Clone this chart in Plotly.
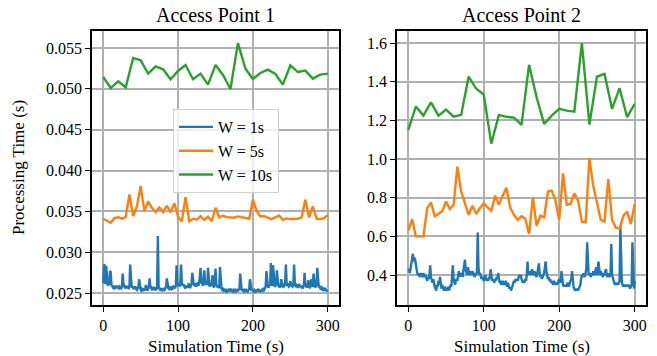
import plotly.graph_objects as go

# ---------------- data ----------------
t_1s = list(range(0, 301, 1))
t_5s = list(range(0, 301, 5))
t_10s = list(range(0, 301, 10))

ap1_w1 = [
    0.0262, 0.0285, 0.0284, 0.0261, 0.0283, 0.0262, 0.0259, 0.0264, 0.0260, 0.0277,
    0.0276, 0.0260, 0.0259, 0.0257, 0.0258, 0.0256, 0.0257, 0.0258, 0.0256, 0.0259,
    0.0257, 0.0256, 0.0258, 0.0257, 0.0256, 0.0258, 0.0274, 0.0262, 0.0258, 0.0256,
    0.0257, 0.0259, 0.0256, 0.0257, 0.0255, 0.0258, 0.0285, 0.0262, 0.0257, 0.0258,
    0.0256, 0.0255, 0.0257, 0.0258, 0.0255, 0.0254, 0.0256, 0.0258, 0.0267, 0.0256,
    0.0254, 0.0253, 0.0255, 0.0254, 0.0256, 0.0253, 0.0255, 0.0260, 0.0254, 0.0253,
    0.0255, 0.0258, 0.0268, 0.0256, 0.0257, 0.0255, 0.0256, 0.0254, 0.0256, 0.0255,
    0.0257, 0.0255, 0.0256, 0.0320, 0.0257, 0.0255, 0.0254, 0.0255, 0.0254, 0.0256,
    0.0254, 0.0255, 0.0254, 0.0256, 0.0259, 0.0268, 0.0258, 0.0256, 0.0255, 0.0257,
    0.0256, 0.0255, 0.0257, 0.0256, 0.0258, 0.0257, 0.0256, 0.0259, 0.0284, 0.0263,
    0.0259, 0.0260, 0.0258, 0.0262, 0.0285, 0.0263, 0.0259, 0.0261, 0.0258, 0.0257,
    0.0258, 0.0256, 0.0259, 0.0257, 0.0262, 0.0258, 0.0256, 0.0259, 0.0262, 0.0275,
    0.0263, 0.0260, 0.0259, 0.0262, 0.0258, 0.0260, 0.0263, 0.0259, 0.0262, 0.0270,
    0.0281, 0.0262, 0.0264, 0.0259, 0.0266, 0.0278, 0.0262, 0.0260, 0.0265, 0.0260,
    0.0281, 0.0263, 0.0258, 0.0261, 0.0259, 0.0263, 0.0272, 0.0259, 0.0257, 0.0260,
    0.0280, 0.0261, 0.0258, 0.0257, 0.0259, 0.0256, 0.0282, 0.0260, 0.0256, 0.0254,
    0.0255, 0.0253, 0.0254, 0.0253, 0.0254, 0.0252, 0.0253, 0.0254, 0.0253, 0.0254,
    0.0252, 0.0254, 0.0253, 0.0252, 0.0254, 0.0253, 0.0254, 0.0252, 0.0253, 0.0254,
    0.0253, 0.0254, 0.0255, 0.0274, 0.0255, 0.0253, 0.0254, 0.0253, 0.0254, 0.0252,
    0.0253, 0.0254, 0.0253, 0.0252, 0.0254, 0.0255, 0.0267, 0.0255, 0.0253, 0.0254,
    0.0253, 0.0252, 0.0254, 0.0253, 0.0252, 0.0253, 0.0254, 0.0253, 0.0254, 0.0253,
    0.0252, 0.0253, 0.0254, 0.0253, 0.0255, 0.0254, 0.0256, 0.0258, 0.0277, 0.0259,
    0.0258, 0.0257, 0.0260, 0.0259, 0.0287, 0.0261, 0.0259, 0.0284, 0.0260, 0.0258,
    0.0259, 0.0262, 0.0278, 0.0260, 0.0258, 0.0259, 0.0257, 0.0259, 0.0267, 0.0259,
    0.0258, 0.0260, 0.0259, 0.0261, 0.0285, 0.0262, 0.0259, 0.0260, 0.0258, 0.0259,
    0.0265, 0.0260, 0.0259, 0.0258, 0.0260, 0.0285, 0.0261, 0.0259, 0.0260, 0.0258,
    0.0259, 0.0258, 0.0260, 0.0259, 0.0258, 0.0257, 0.0258, 0.0257, 0.0259, 0.0275,
    0.0260, 0.0258, 0.0257, 0.0259, 0.0266, 0.0258, 0.0257, 0.0259, 0.0267, 0.0259,
    0.0258, 0.0274, 0.0259, 0.0257, 0.0258, 0.0260, 0.0281, 0.0259, 0.0257, 0.0258,
    0.0256, 0.0257, 0.0255, 0.0256, 0.0254, 0.0255, 0.0253, 0.0255, 0.0254, 0.0253,
    0.0254,
]

ap1_w5 = [
    0.03411, 0.03390, 0.03362, 0.03418, 0.03430, 0.03411, 0.03430, 0.03708, 0.03443, 0.03565,
    0.03810, 0.03504, 0.03622, 0.03545, 0.03492, 0.03549, 0.03492, 0.03570, 0.03488, 0.03602,
    0.03435, 0.03378, 0.03675, 0.03378, 0.03411, 0.03398, 0.03443, 0.03398, 0.03435, 0.03382,
    0.03545, 0.03427, 0.03447, 0.03430, 0.03423, 0.03423, 0.03439, 0.03427, 0.03423, 0.03411,
    0.03643, 0.03504, 0.03439, 0.03443, 0.03423, 0.03406, 0.03427, 0.03451, 0.03398, 0.03414,
    0.03406, 0.03406, 0.03411, 0.03427, 0.03643, 0.03427, 0.03561, 0.03411, 0.03406, 0.03418,
    0.03455,
]

ap1_w10 = [
    0.05145, 0.05010, 0.05092, 0.05019, 0.05378, 0.05349, 0.05186, 0.05276, 0.05239, 0.05117,
    0.05219, 0.05292, 0.05117, 0.05186, 0.05052, 0.05292, 0.05170, 0.04998, 0.05560, 0.05248,
    0.05121, 0.05194, 0.05235, 0.05182, 0.05052, 0.05288, 0.05206, 0.05223, 0.05125, 0.05174,
    0.05186,
]

ap2_w1 = [
    0.42, 0.43, 0.41, 0.44, 0.46, 0.50, 0.51, 0.47, 0.49, 0.48,
    0.44, 0.43, 0.41, 0.40, 0.41, 0.39, 0.40, 0.41, 0.40, 0.39,
    0.41, 0.40, 0.39, 0.40, 0.38, 0.37, 0.39, 0.38, 0.40, 0.45,
    0.39, 0.37, 0.36, 0.38, 0.35, 0.34, 0.33, 0.32, 0.35, 0.34,
    0.37, 0.35, 0.39, 0.34, 0.33, 0.35, 0.33, 0.32, 0.33, 0.34,
    0.32, 0.33, 0.32, 0.34, 0.32, 0.33, 0.35, 0.34, 0.38, 0.45,
    0.38, 0.36, 0.35, 0.37, 0.38, 0.37, 0.39, 0.42, 0.39, 0.41,
    0.40, 0.41, 0.39, 0.42, 0.44, 0.48, 0.43, 0.41, 0.40, 0.44,
    0.41, 0.40, 0.42, 0.41, 0.40, 0.42, 0.41, 0.40, 0.39, 0.41,
    0.40, 0.42, 0.62, 0.44, 0.40, 0.41, 0.39, 0.38, 0.39, 0.38,
    0.37, 0.38, 0.40, 0.38, 0.37, 0.38, 0.37, 0.39, 0.38, 0.43,
    0.39, 0.37, 0.38, 0.37, 0.36, 0.38, 0.37, 0.39, 0.38, 0.41,
    0.38, 0.36, 0.37, 0.35, 0.36, 0.37, 0.35, 0.36, 0.35, 0.37,
    0.35, 0.34, 0.36, 0.34, 0.33, 0.34, 0.32, 0.33, 0.35, 0.36,
    0.37, 0.36, 0.38, 0.37, 0.38, 0.37, 0.39, 0.40, 0.39, 0.40,
    0.38, 0.37, 0.36, 0.37, 0.36, 0.38, 0.37, 0.40, 0.47, 0.40,
    0.41, 0.42, 0.40, 0.41, 0.43, 0.41, 0.40, 0.42, 0.41, 0.40,
    0.39, 0.41, 0.43, 0.46, 0.41, 0.39, 0.40, 0.38, 0.39, 0.40,
    0.41, 0.44, 0.47, 0.42, 0.39, 0.38, 0.39, 0.37, 0.38, 0.36,
    0.37, 0.36, 0.35, 0.37, 0.36, 0.35, 0.36, 0.35, 0.36, 0.37,
    0.38, 0.36, 0.37, 0.42, 0.36, 0.35, 0.34, 0.35, 0.34, 0.35,
    0.34, 0.36, 0.35, 0.34, 0.36, 0.37, 0.38, 0.42, 0.36, 0.34,
    0.33, 0.32, 0.33, 0.32, 0.33, 0.32, 0.33, 0.34, 0.35, 0.38,
    0.40, 0.39, 0.41, 0.40, 0.39, 0.41, 0.44, 0.57, 0.42, 0.40,
    0.41, 0.40, 0.39, 0.41, 0.40, 0.42, 0.40, 0.41, 0.43, 0.44,
    0.40, 0.42, 0.47, 0.41, 0.40, 0.42, 0.41, 0.40, 0.39, 0.41,
    0.40, 0.42, 0.43, 0.40, 0.39, 0.41, 0.40, 0.39, 0.41, 0.56,
    0.40, 0.38, 0.37, 0.36, 0.35, 0.36, 0.35, 0.36, 0.35, 0.36,
    0.37, 0.655, 0.40, 0.36, 0.35, 0.34, 0.35, 0.34, 0.35, 0.34,
    0.35, 0.34, 0.35, 0.34, 0.33, 0.34, 0.35, 0.57, 0.35, 0.33,
    0.37,
]

ap2_w5 = [
    0.63, 0.69, 0.60, 0.60, 0.60, 0.745, 0.776, 0.704, 0.719, 0.730,
    0.781, 0.742, 0.763, 0.961, 0.833, 0.776, 0.712, 0.759, 0.716, 0.747,
    0.771, 0.750, 0.733, 0.811, 0.764, 0.811, 0.851, 0.750, 0.711, 0.685,
    0.704, 0.693, 0.612, 0.802, 0.655, 0.707, 0.698, 0.832, 0.837, 0.785,
    0.685, 0.928, 0.764, 0.768, 0.823, 0.785, 0.676, 0.673, 1.004, 0.863,
    0.776, 0.686, 0.676, 0.897, 0.686, 0.645, 0.640, 0.707, 0.728, 0.664,
    0.768,
]

ap2_w10 = [
    1.151, 1.272, 1.225, 1.294, 1.225, 1.256, 1.220, 1.229, 1.427, 1.364,
    1.334, 1.080, 1.229, 1.219, 1.215, 1.177, 1.488, 1.320, 1.182, 1.225,
    1.260, 1.251, 1.246, 1.600, 1.179, 1.427, 1.441, 1.260, 1.367, 1.217,
    1.286,
]

series_names = ["W = 1s", "W = 5s", "W = 10s"]
colors = ["#1f77b4", "#ff7f0e", "#2ca02c"]
titles = ["Access Point 1", "Access Point 2"]
x_ticks = [0, 100, 200, 300]

# ---------------- figure ----------------
W, H = 657, 356
FONT = "Liberation Serif, Times New Roman, serif"

fig = go.Figure()

panels = [
    ("x", "y", [ap1_w1, ap1_w5, ap1_w10], True),
    ("x2", "y2", [ap2_w1, ap2_w5, ap2_w10], False),
]
xs = [t_1s, t_5s, t_10s]
for xa, ya, ys, show in panels:
    for i in range(3):
        fig.add_trace(go.Scatter(
            x=xs[i], y=ys[i], mode="lines", name=series_names[i],
            line=dict(color=colors[i], width=2.4),
            xaxis=xa, yaxis=ya, showlegend=show,
        ))

def px_x(p):
    return p / W

def px_y(p):
    return 1 - p / H

axis_common = dict(
    showgrid=True, gridcolor="#b0b0b0", gridwidth=1.6,
    showline=True, linecolor="black", linewidth=1.8, mirror=True,
    ticks="outside", ticklen=5, tickwidth=1.3, tickcolor="black",
    zeroline=False, tickfont=dict(family=FONT, size=16, color="black"),
)

fig.update_layout(
    width=W, height=H,
    margin=dict(l=0, r=0, t=0, b=0),
    paper_bgcolor="white", plot_bgcolor="white",
    font=dict(family=FONT, color="black"),
    xaxis=dict(domain=[px_x(92), px_x(339)], range=[-15, 315], anchor="y",
               tickvals=x_ticks, **axis_common),
    yaxis=dict(domain=[px_y(305), px_y(31)], range=[0.02355, 0.05708], anchor="x",
               dtick=0.005, tick0=0.025, tickformat=".3f", **axis_common),
    xaxis2=dict(domain=[px_x(397), px_x(646)], range=[-15, 315], anchor="y2",
                tickvals=x_ticks, **axis_common),
    yaxis2=dict(domain=[px_y(305), px_y(31)], range=[0.245, 1.663], anchor="x2",
                dtick=0.2, tick0=0.4, tickformat=".1f", **axis_common),
    legend=dict(
        x=px_x(173), y=px_y(109), xanchor="left", yanchor="top",
        bgcolor="rgba(255,255,255,0.8)", bordercolor="#d0d0d0", borderwidth=1,
        font=dict(family=FONT, size=16, color="black"),
        itemwidth=34, tracegroupgap=2,
    ),
)

annotations = [
    dict(text=titles[0], x=px_x(215.5), y=px_y(15), xanchor="center", yanchor="middle",
         font=dict(size=20)),
    dict(text=titles[1], x=px_x(521.5), y=px_y(15), xanchor="center", yanchor="middle",
         font=dict(size=20)),
    dict(text="Simulation Time (s)", x=px_x(215.5), y=px_y(346), xanchor="center",
         yanchor="middle", font=dict(size=17)),
    dict(text="Simulation Time (s)", x=px_x(521.5), y=px_y(346), xanchor="center",
         yanchor="middle", font=dict(size=17)),
    dict(text="Processing Time (s)", x=px_x(18), y=px_y(168), xanchor="center",
         yanchor="middle", textangle=-90, font=dict(size=17)),
]
for a in annotations:
    a.update(xref="paper", yref="paper", showarrow=False)
    a["font"].update(family=FONT, color="black")
fig.update_layout(annotations=annotations)

fig.write_html("out.html")
